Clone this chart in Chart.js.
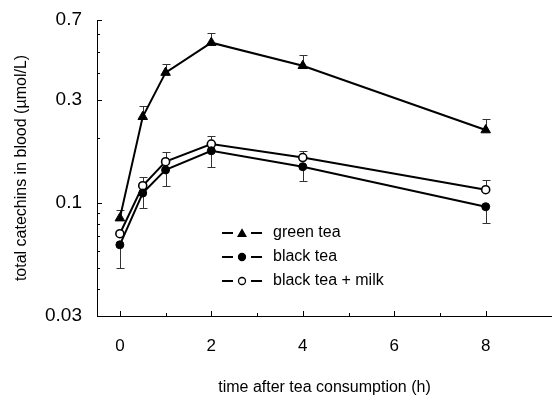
<!DOCTYPE html>
<html>
<head>
<meta charset="utf-8">
<script src="https://cdn.jsdelivr.net/npm/chart.js@4.4.1/dist/chart.umd.min.js"></script>
<style>
body { margin: 0; background: #fff; }
canvas { display: block; }
</style>
</head>
<body>
<canvas id="chart" width="552" height="397"></canvas>
<script>
// time points (h)
const times = [0, 0.5, 1, 2, 4, 8];

// mean total catechins (umol/L)
const greenTea = [0.085, 0.25, 0.40, 0.55, 0.43, 0.217];
const blackTea = [0.064, 0.111, 0.142, 0.174, 0.147, 0.096];
const blackTeaMilk = [0.072, 0.120, 0.155, 0.187, 0.162, 0.115];

// end of the one-sided error bars
const greenTeaHi = [0.093, 0.28, 0.44, 0.611, 0.482, 0.243];
const blackTeaLo = [0.050, 0.095, 0.120, 0.147, 0.126, 0.081];
const blackTeaMilkHi = [null, 0.132, 0.171, 0.204, 0.174, 0.128];

const seriesNames = ['green tea', 'black tea', 'black tea + milk'];

const yTicks = [0.03, 0.1, 0.3, 0.7];
const yMinorTicks = [0.04, 0.05, 0.06, 0.07, 0.08, 0.09, 0.2, 0.4, 0.5, 0.6];
const xTicks = [0, 2, 4, 6, 8];
const xMinorTicks = [1, 3, 5, 7];

const fontFamily = '"Liberation Sans", Arial, sans-serif';

function toPoints(vals) {
    return times.map((t, i) => ({ x: t, y: vals[i] }));
}

function drawMarker(ctx, style, x, y, r, fill) {
    ctx.beginPath();
    if (style === 'triangle') {
        ctx.moveTo(x, y - r);
        ctx.lineTo(x + r * Math.sin(2 * Math.PI / 3), y - r * Math.cos(2 * Math.PI / 3));
        ctx.lineTo(x + r * Math.sin(4 * Math.PI / 3), y - r * Math.cos(4 * Math.PI / 3));
        ctx.closePath();
    } else {
        ctx.arc(x, y, r, 0, Math.PI * 2);
    }
    ctx.fillStyle = fill;
    ctx.fill();
    ctx.strokeStyle = '#000';
    ctx.lineWidth = 1.3;
    ctx.stroke();
}

// error bars, drawn under the markers
const errorBars = {
    id: 'errorBars',
    beforeDatasetsDraw(chart) {
        const ctx = chart.ctx;
        const yScale = chart.scales.y;
        ctx.save();
        ctx.strokeStyle = '#333';
        ctx.lineWidth = 1;
        chart.data.datasets.forEach((ds, i) => {
            const meta = chart.getDatasetMeta(i);
            ds.errorTo.forEach((v, j) => {
                if (v == null) return;
                const pt = meta.data[j];
                const y1 = Math.round(yScale.getPixelForValue(v)) + 0.5;
                const x = Math.round(pt.x) + 0.5;
                ctx.beginPath();
                ctx.moveTo(x, pt.y);
                ctx.lineTo(x, y1);
                ctx.moveTo(x - 4, y1);
                ctx.lineTo(x + 4, y1);
                ctx.stroke();
            });
        });
        ctx.restore();
    }
};

// inward tick marks
const innerTicks = {
    id: 'innerTicks',
    afterDraw(chart) {
        const ctx = chart.ctx;
        const { left, bottom } = chart.chartArea;
        const xs = chart.scales.x, ys = chart.scales.y;
        ctx.save();
        ctx.strokeStyle = '#000';
        ctx.lineWidth = 1;
        ctx.beginPath();
        yTicks.forEach(v => {
            const y = Math.round(ys.getPixelForValue(v)) + 0.5;
            ctx.moveTo(left, y); ctx.lineTo(left + 5, y);
        });
        yMinorTicks.forEach(v => {
            const y = Math.round(ys.getPixelForValue(v)) + 0.5;
            ctx.moveTo(left, y); ctx.lineTo(left + 3, y);
        });
        xTicks.forEach(v => {
            const x = Math.round(xs.getPixelForValue(v)) + 0.5;
            ctx.moveTo(x, bottom); ctx.lineTo(x, bottom - 5);
        });
        xMinorTicks.forEach(v => {
            const x = Math.round(xs.getPixelForValue(v)) + 0.5;
            ctx.moveTo(x, bottom); ctx.lineTo(x, bottom - 3);
        });
        ctx.stroke();
        ctx.restore();
    }
};

// legend inside the plot: "— marker —  label"
const innerLegend = {
    id: 'innerLegend',
    afterDraw(chart) {
        const ctx = chart.ctx;
        const x0 = chart.chartArea.left + 125;
        const y0 = chart.chartArea.top + 213;
        ctx.save();
        chart.data.datasets.forEach((ds, i) => {
            const y = y0 + i * 24;
            ctx.strokeStyle = '#000';
            ctx.lineWidth = 2;
            ctx.beginPath();
            ctx.moveTo(x0, y); ctx.lineTo(x0 + 11, y);
            ctx.moveTo(x0 + 29, y); ctx.lineTo(x0 + 40, y);
            ctx.stroke();
            const r = ds.pointStyle === 'triangle' ? 4.5 : 3.5;
            drawMarker(ctx, ds.pointStyle, x0 + 20, y + (ds.pointStyle === 'triangle' ? 1 : 0), r, ds.pointBackgroundColor);
            ctx.fillStyle = '#000';
            ctx.font = '16px ' + fontFamily;
            ctx.textBaseline = 'middle';
            ctx.fillText(ds.label, x0 + 51, y);
        });
        ctx.restore();
    }
};

new Chart(document.getElementById('chart'), {
    type: 'line',
    data: {
        datasets: [
            {
                label: seriesNames[0],
                data: toPoints(greenTea),
                errorTo: greenTeaHi,
                borderColor: '#000',
                borderWidth: 2,
                pointStyle: 'triangle',
                pointRadius: 5.5,
                pointBackgroundColor: '#000',
                pointBorderColor: '#000',
                pointBorderWidth: 1
            },
            {
                label: seriesNames[1],
                data: toPoints(blackTea),
                errorTo: blackTeaLo,
                borderColor: '#000',
                borderWidth: 2,
                pointStyle: 'circle',
                pointRadius: 4,
                pointBackgroundColor: '#000',
                pointBorderColor: '#000',
                pointBorderWidth: 1
            },
            {
                label: seriesNames[2],
                data: toPoints(blackTeaMilk),
                errorTo: blackTeaMilkHi,
                borderColor: '#000',
                borderWidth: 2,
                pointStyle: 'circle',
                pointRadius: 4,
                pointBackgroundColor: '#fff',
                pointBorderColor: '#000',
                pointBorderWidth: 1.6
            }
        ]
    },
    options: {
        responsive: false,
        animation: false,
        devicePixelRatio: 1,
        layout: { autoPadding: false, padding: { top: 20, right: 0, left: 0, bottom: 0 } },
        plugins: {
            legend: { display: false },
            tooltip: { enabled: false }
        },
        scales: {
            x: {
                type: 'linear',
                min: -0.5,
                max: 9.45,
                afterBuildTicks: s => { s.ticks = xTicks.map(v => ({ value: v })); },
                afterFit: s => { s.height = 81; s.paddingLeft = 0; s.paddingRight = 0; },
                grid: { drawOnChartArea: false, drawTicks: false },
                border: { display: true, color: '#000', width: 1 },
                ticks: {
                    padding: 20,
                    color: '#000',
                    font: { family: fontFamily, size: 17 }
                },
                title: {
                    display: true,
                    text: 'time after tea consumption (h)',
                    color: '#000',
                    font: { family: fontFamily, size: 16 },
                    padding: { top: 0, bottom: 0 }
                }
            },
            y: {
                type: 'logarithmic',
                min: 0.03,
                max: 0.7,
                afterBuildTicks: s => { s.ticks = yTicks.map(v => ({ value: v })); },
                afterFit: s => { s.width = 97; s.paddingTop = 0; s.paddingBottom = 0; },
                grid: { drawOnChartArea: false, drawTicks: false },
                border: { display: true, color: '#000', width: 1 },
                ticks: {
                    padding: 15,
                    color: '#000',
                    font: { family: fontFamily, size: 19 },
                    callback: v => String(v)
                },
                title: {
                    display: true,
                    text: 'total catechins in blood (µmol/L)',
                    color: '#000',
                    font: { family: fontFamily, size: 16 },
                    padding: { top: 12, bottom: 0 }
                }
            }
        }
    },
    plugins: [errorBars, innerTicks, innerLegend]
});
</script>
</body>
</html>
